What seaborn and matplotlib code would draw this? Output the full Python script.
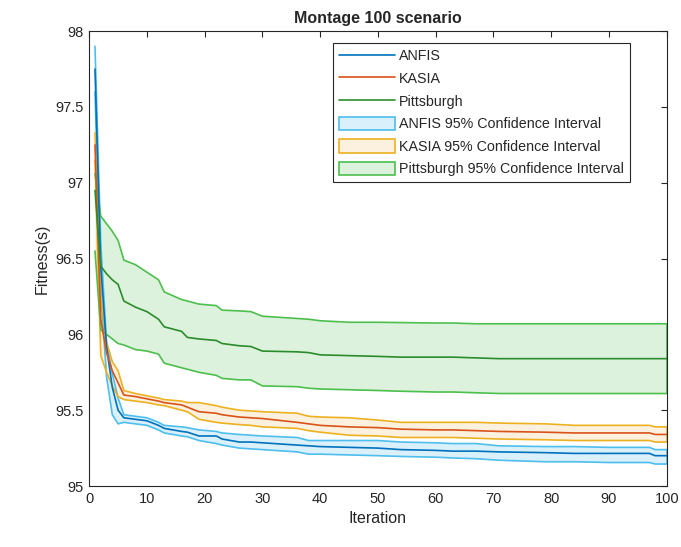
import numpy as np
import pandas as pd
import seaborn as sns
import matplotlib.pyplot as plt
from matplotlib.lines import Line2D
from matplotlib.patches import Patch
from matplotlib.ticker import FormatStrFormatter

iters = [1, 2, 3, 4, 5, 6, 8, 10, 12, 13, 16, 17, 19, 22, 23, 26, 28, 30,
         36, 38, 40, 45, 50, 54, 60, 63, 67, 71, 79, 84, 90, 97, 98, 100]

anfis_mean = [97.75, 96.45, 95.92, 95.65, 95.50, 95.45, 95.44, 95.43, 95.40,
              95.38, 95.36, 95.355, 95.33, 95.33, 95.31, 95.29, 95.29, 95.285,
              95.27, 95.265, 95.26, 95.255, 95.25, 95.24, 95.235, 95.23,
              95.23, 95.225, 95.22, 95.215, 95.215, 95.215, 95.20, 95.20]
anfis_upper = [97.9, 96.6, 95.95, 95.74, 95.58, 95.47, 95.46, 95.45, 95.42,
               95.40, 95.39, 95.385, 95.37, 95.36, 95.35, 95.34, 95.335,
               95.33, 95.32, 95.30, 95.30, 95.30, 95.30, 95.29, 95.285,
               95.28, 95.28, 95.265, 95.26, 95.26, 95.255, 95.255, 95.24,
               95.24]
anfis_lower = [97.6, 96.3, 95.72, 95.47, 95.41, 95.42, 95.41, 95.40, 95.37,
               95.35, 95.33, 95.325, 95.30, 95.28, 95.27, 95.25, 95.245,
               95.24, 95.225, 95.21, 95.21, 95.205, 95.20, 95.195, 95.19,
               95.185, 95.18, 95.17, 95.16, 95.16, 95.155, 95.155, 95.145,
               95.145]

kasia_mean = [97.25, 96.1, 95.88, 95.76, 95.68, 95.60, 95.59, 95.575, 95.56,
              95.55, 95.535, 95.52, 95.49, 95.48, 95.47, 95.455, 95.45,
              95.445, 95.42, 95.41, 95.40, 95.39, 95.385, 95.375, 95.37,
              95.37, 95.365, 95.36, 95.355, 95.35, 95.35, 95.35, 95.34, 95.34]
kasia_upper = [97.33, 96.25, 95.95, 95.82, 95.76, 95.63, 95.61, 95.595,
               95.58, 95.57, 95.56, 95.55, 95.55, 95.53, 95.52, 95.50, 95.495,
               95.49, 95.48, 95.46, 95.455, 95.45, 95.435, 95.42, 95.42,
               95.42, 95.42, 95.415, 95.41, 95.40, 95.40, 95.40, 95.39, 95.39]
kasia_lower = [97.15, 95.86, 95.75, 95.66, 95.59, 95.57, 95.56, 95.55,
               95.535, 95.53, 95.50, 95.49, 95.44, 95.42, 95.415, 95.405,
               95.40, 95.39, 95.38, 95.365, 95.355, 95.335, 95.33, 95.32,
               95.32, 95.32, 95.315, 95.31, 95.305, 95.30, 95.30, 95.30,
               95.29, 95.29]

pitt_mean = [96.95, 96.45, 96.40, 96.36, 96.33, 96.22, 96.18, 96.15, 96.10,
             96.05, 96.02, 95.98, 95.97, 95.96, 95.94, 95.925, 95.92, 95.89,
             95.885, 95.88, 95.865, 95.86, 95.855, 95.85, 95.85, 95.85,
             95.845, 95.84, 95.84, 95.84, 95.84, 95.84, 95.84, 95.84]
pitt_upper = [97.06, 96.78, 96.73, 96.68, 96.62, 96.49, 96.46, 96.41, 96.36,
              96.28, 96.23, 96.22, 96.20, 96.19, 96.16, 96.155, 96.15, 96.12,
              96.105, 96.10, 96.09, 96.08, 96.08, 96.078, 96.075, 96.075,
              96.07, 96.07, 96.07, 96.07, 96.07, 96.07, 96.07, 96.07]
pitt_lower = [96.55, 96.03, 96.00, 95.97, 95.94, 95.93, 95.90, 95.89, 95.87,
              95.81, 95.78, 95.77, 95.75, 95.73, 95.71, 95.70, 95.70, 95.66,
              95.655, 95.645, 95.64, 95.635, 95.63, 95.625, 95.62, 95.62,
              95.615, 95.61, 95.61, 95.61, 95.61, 95.61, 95.61, 95.61]

methods = ['ANFIS', 'KASIA', 'Pittsburgh']
line_colors = ['#0072BD', '#D95319', '#2B8C2B']
edge_colors = ['#4DBEEE', '#EDB120', '#4DBF4D']
fill_colors = ['#DAF0FB', '#FBF1DE', '#DCF2DC']


def build_frame():
    '''
    Puts the mean and interval values of each method into one long
    data frame so seaborn can draw them.
    '''
    means = [anfis_mean, kasia_mean, pitt_mean]
    uppers = [anfis_upper, kasia_upper, pitt_upper]
    lowers = [anfis_lower, kasia_lower, pitt_lower]
    frames = []
    for name, m, u, lo in zip(methods, means, uppers, lowers):
        frames.append(pd.DataFrame({'Iteration': iters, 'Mean': m,
                                    'Upper': u, 'Lower': lo,
                                    'Method': name}))
    return pd.concat(frames, ignore_index=True)


def main():
    df = build_frame()
    sns.set_style('white')
    plt.rcParams['font.family'] = ['Liberation Sans', 'DejaVu Sans']

    fig, ax = plt.subplots(figsize=(6.81, 5.47), dpi=100)
    fig.subplots_adjust(left=0.131, right=0.979, top=0.943, bottom=0.1115)

    for i, name in enumerate(methods):
        sub = df[df['Method'] == name]
        ax.fill_between(sub['Iteration'], sub['Lower'], sub['Upper'],
                        color=fill_colors[i], linewidth=0, zorder=1)
        sns.lineplot(data=sub, x='Iteration', y='Upper', ax=ax,
                     color=edge_colors[i], linewidth=1.2, zorder=2)
        sns.lineplot(data=sub, x='Iteration', y='Lower', ax=ax,
                     color=edge_colors[i], linewidth=1.2, zorder=2)
    # right edge of the bands
    for i, name in enumerate(methods):
        sub = df[df['Method'] == name].tail(1)
        ax.vlines(sub['Iteration'], sub['Lower'], sub['Upper'],
                  color=edge_colors[i], linewidth=1.2, zorder=2)
    sns.lineplot(data=df, x='Iteration', y='Mean', hue='Method',
                 palette=line_colors, linewidth=1.2, ax=ax, legend=False,
                 zorder=3)

    ax.set_xlim(0, 100)
    ax.set_ylim(95, 98)
    ax.set_xticks(np.arange(0, 101, 10))
    ax.set_yticks(np.arange(95, 98.01, 0.5))
    ax.yaxis.set_major_formatter(FormatStrFormatter('%g'))
    ax.tick_params(direction='in', length=4, width=0.8, colors='#262626',
                   top=True, right=True, labelsize=10.5, pad=4)
    for s in ax.spines.values():
        s.set_color('#262626')
        s.set_linewidth(0.8)
    ax.set_xlabel('Iteration', fontsize=11.5, color='#262626')
    ax.set_ylabel('Fitness(s)', fontsize=11.5, color='#262626')
    ax.set_title('Montage 100 scenario', fontsize=11.5, fontweight='bold',
                 pad=6)

    handles = [Line2D([], [], color=c, linewidth=1.2) for c in line_colors]
    handles += [Patch(facecolor=f, edgecolor=e, linewidth=1.2)
                for f, e in zip(fill_colors, edge_colors)]
    labels = methods + [m + ' 95% Confidence Interval' for m in methods]
    leg = ax.legend(handles, labels, loc='upper right',
                    bbox_to_anchor=(0.936, 0.974), borderaxespad=0,
                    fontsize=10.3, handlelength=3.9, handleheight=1.1,
                    labelspacing=0.55, handletextpad=0.3, borderpad=0.4,
                    fancybox=False, framealpha=1)
    leg.get_frame().set_edgecolor('#262626')
    leg.get_frame().set_linewidth(0.8)

    plt.savefig('out.png', dpi=100)


if __name__ == '__main__':
    main()
